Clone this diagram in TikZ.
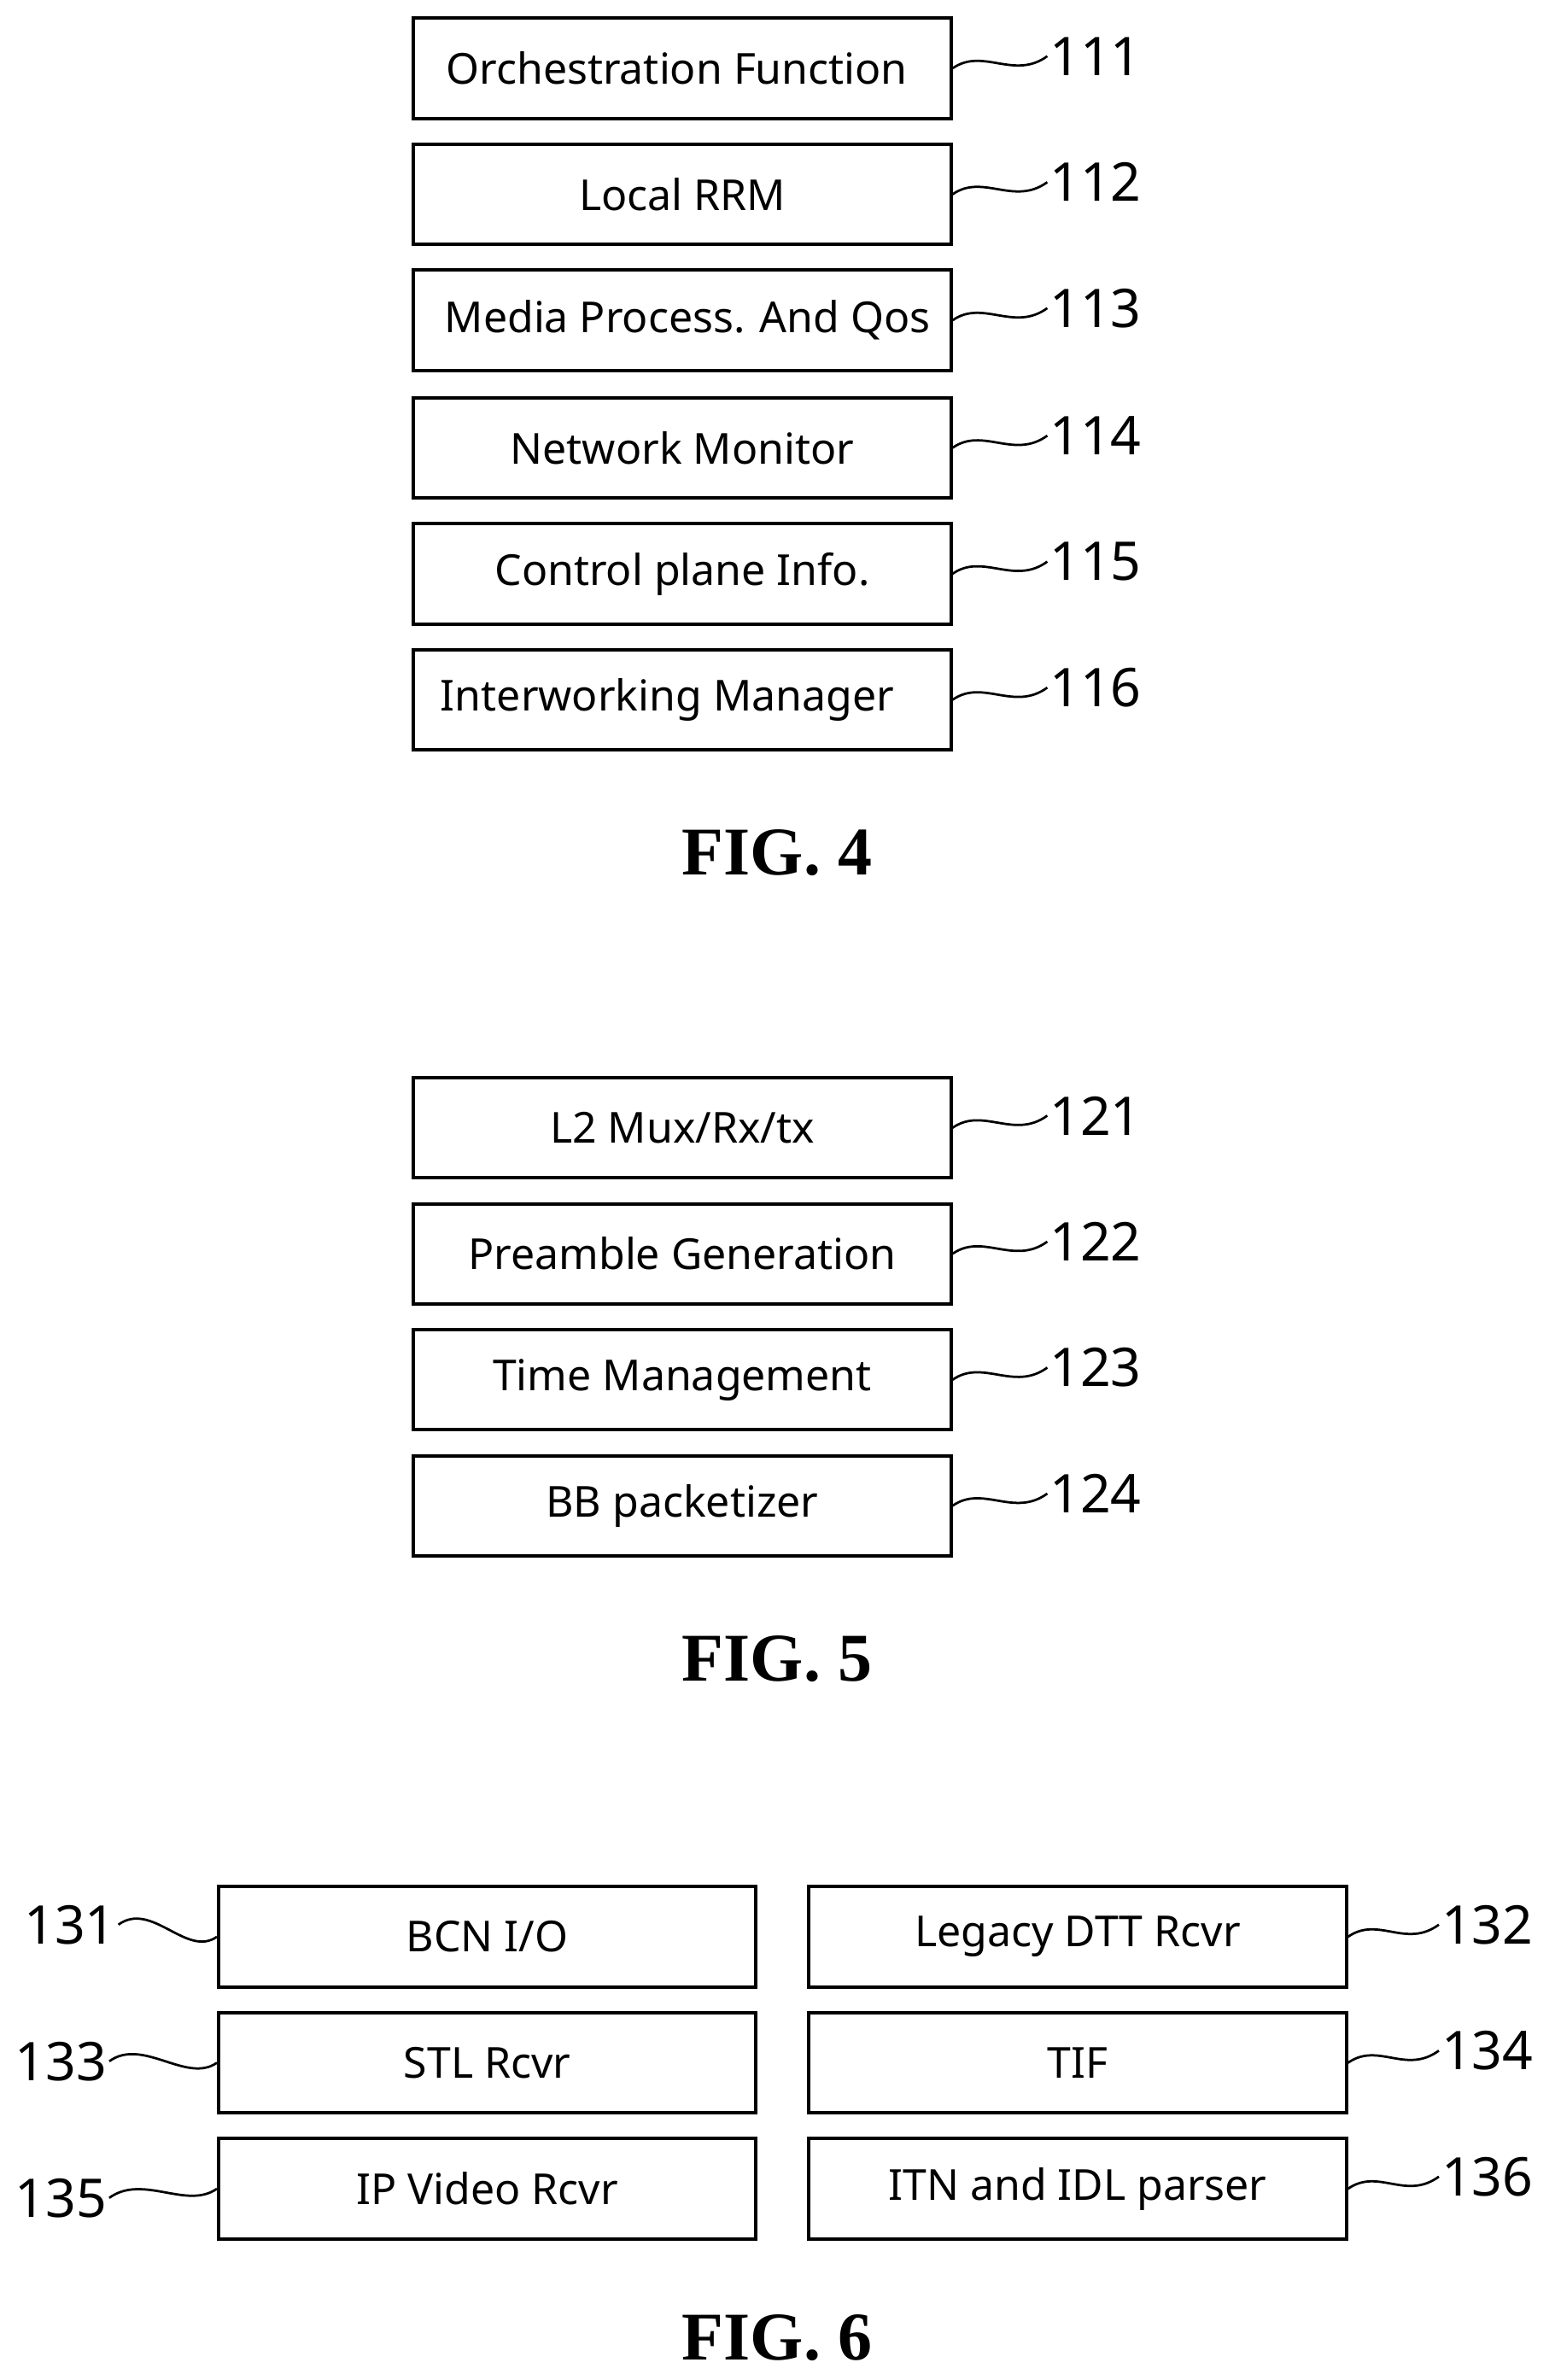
\documentclass[tikz,border=0pt]{standalone}
\usepackage{fontspec}
\setmainfont{Liberation Serif}
\newfontfamily\boxfont{Noto Sans}
\begin{document}
\begin{tikzpicture}[x=0.025cm,y=-0.025cm,
  bx/.style={draw,line width=1.6pt,minimum width=354*0.025cm,minimum height=66*0.025cm,font=\boxfont\fontsize{20}{23}\selectfont,inner sep=0pt},
  num/.style={font=\boxfont\fontsize{25}{28}\selectfont,inner sep=1pt},
  fig/.style={font=\bfseries\fontsize{32}{36}\selectfont},
  ld/.style={line width=1.1pt}]
\useasboundingbox (0,0) rectangle (1024,1568);
% FIG 4
\foreach \i/\y/\t/\dx in {111/45/Orchestration Function/-5,112/128/Local RRM/0,113/211/Media Process. And Qos/5,114/295/Network Monitor/0,115/378/Control plane Info./0,116/461/Interworking Manager/-14}{
  \node[bx] (b\i) at (449.5,\y) {\hspace*{\dx pt}\t};
  \node[num,anchor=west] (n\i) at (690,\y-8) {\i};
  \draw[ld] (b\i.east) .. controls +(20,-14) and +(-22,16) .. (n\i.west);
}
\node[fig] (f4) at (512,562) {FIG. 4};
% FIG 5
\foreach \i/\y/\t in {121/743/{L2 Mux/Rx/tx},122/826/Preamble Generation,123/909/Time Management,124/992/BB packetizer}{
  \node[bx] (b\i) at (449.5,\y) {\t};
  \node[num,anchor=west] (n\i) at (690,\y-8) {\i};
  \draw[ld] (b\i.east) .. controls +(20,-14) and +(-22,16) .. (n\i.west);
}
\node[fig] (f5) at (512,1093) {FIG. 5};
% FIG 6
\foreach \i/\j/\y/\ly/\lx/\ta/\tb in {131/132/1276/1268/78/{BCN I/O}/Legacy DTT Rcvr,133/134/1359/1358/72/STL Rcvr/TIF,135/136/1442/1448/72/IP Video Rcvr/ITN and IDL parser}{
  \node[bx] (b\i) at (321,\y) {\ta};
  \node[bx] (b\j) at (710,\y) {\tb};
  \node[num,anchor=east] (n\i) at (\lx,\ly) {\i};
  \node[num,anchor=west] (n\j) at (948,\y-8) {\j};
  \draw[ld] (n\i.east) .. controls +(22,-16) and +(-20,14) .. (b\i.west);
  \draw[ld] (b\j.east) .. controls +(20,-14) and +(-22,16) .. (n\j.west);
}
\node[fig] (f6) at (512,1540) {FIG. 6};
\end{tikzpicture}
\end{document}
